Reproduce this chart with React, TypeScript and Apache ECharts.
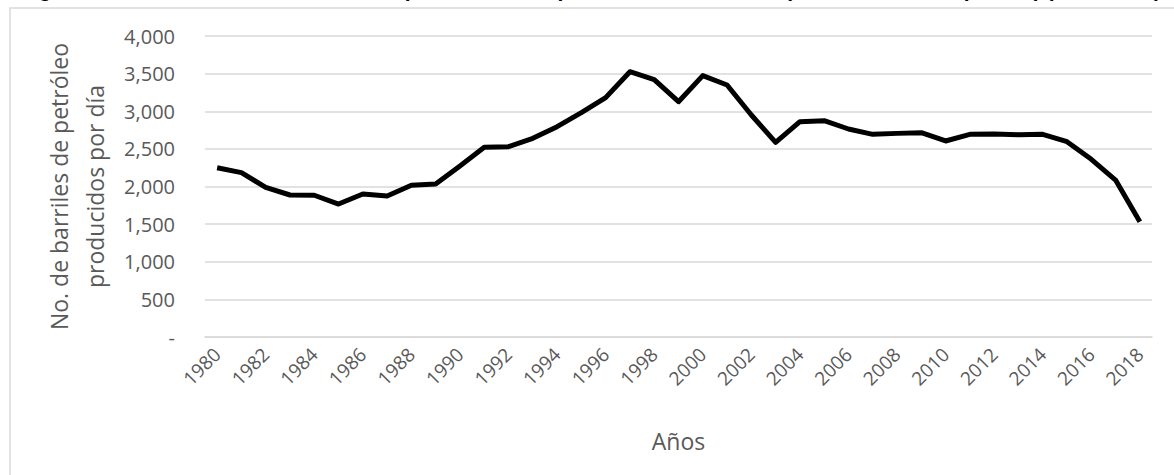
import React, { useEffect, useRef } from "react";
import * as echarts from "echarts";

const years: string[] = [
  "1980","1981","1982","1983","1984","1985","1986","1987","1988","1989",
  "1990","1991","1992","1993","1994","1995","1996","1997","1998","1999",
  "2000","2001","2002","2003","2004","2005","2006","2007","2008","2009",
  "2010","2011","2012","2013","2014","2015","2016","2017","2018",
];

const barrels: number[] = [
  2250, 2184, 1989, 1887, 1884, 1767, 1900, 1874, 2016, 2033,
  2272, 2521, 2529, 2640, 2795, 2981, 3181, 3526, 3420, 3127,
  3473, 3349, 2950, 2587, 2862, 2875, 2764, 2693, 2706, 2715,
  2605, 2693, 2698, 2689, 2693, 2596, 2361, 2086, 1532,
];

const titleText =
  "Figura 1. Total histórico de barriles de petróleo crudo producidos en México (miles de barriles por día) (1980-2018)";
const yAxisName = "No. de barriles de petróleo\nproducidos por día";
const xAxisName = "Años";

const FONT = "'Open Sans', sans-serif";

export default function App() {
  const ref = useRef<HTMLDivElement>(null);
  useEffect(() => {
    if (!ref.current) return;
    const chart = echarts.init(ref.current, null, { renderer: "svg" });
    chart.setOption({
      animation: false,
      backgroundColor: "#ffffff",
      textStyle: { fontFamily: FONT },
      grid: { left: 205, right: 22, top: 36, bottom: 138 },
      graphic: [
        {
          type: "rect",
          shape: { x: 10, y: 8, width: 1300, height: 600 },
          style: { fill: "none", stroke: "#d9d9d9", lineWidth: 1.5 },
          silent: true,
        },
        {
          type: "text",
          x: 20,
          y: 0,
          style: {
            text: titleText,
            fontFamily: "'Liberation Sans', Arial, sans-serif",
            fontWeight: "bold",
            fontSize: 21,
            fill: "#000000",
            textVerticalAlign: "bottom",
          },
          silent: true,
        },
      ],
      xAxis: {
        type: "category",
        data: years,
        boundaryGap: true,
        name: xAxisName,
        nameLocation: "middle",
        nameGap: 92,
        nameTextStyle: { color: "#595959", fontSize: 23, fontFamily: FONT },
        axisLine: { show: true, lineStyle: { color: "#d9d9d9", width: 1.5 } },
        axisTick: { show: false },
        axisLabel: {
          interval: 1,
          rotate: 45,
          color: "#595959",
          fontSize: 19,
          fontFamily: FONT,
          margin: 14,
        },
      },
      yAxis: {
        type: "value",
        min: 0,
        max: 4000,
        interval: 500,
        name: yAxisName,
        nameLocation: "middle",
        nameGap: 90,
        nameTextStyle: { color: "#595959", fontSize: 23, fontFamily: FONT, lineHeight: 36 },
        axisLine: { show: false },
        axisTick: { show: false },
        splitLine: { lineStyle: { color: "#d9d9d9", width: 1.5 } },
        axisLabel: {
          color: "#595959",
          fontSize: 20,
          fontFamily: FONT,
          margin: 30,
          formatter: (v: number) => (v === 0 ? "-" : v.toLocaleString("en-US")),
        },
      },
      series: [
        {
          type: "line",
          data: barrels,
          symbol: "none",
          lineStyle: { color: "#000000", width: 5, join: "round" },
        },
      ],
    });
    return () => chart.dispose();
  }, []);
  return (
    <div
      ref={ref}
      style={{ position: "fixed", left: 0, top: 0, width: 1174, height: 475 }}
    />
  );
}
